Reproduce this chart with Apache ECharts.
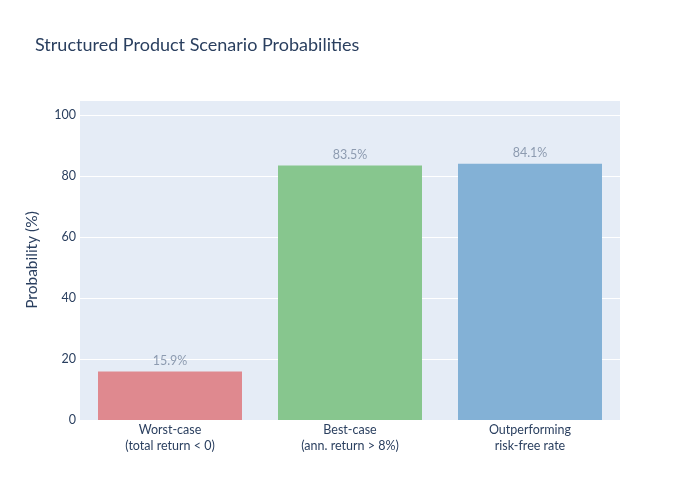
<!DOCTYPE html>
<html>
<head>
<meta charset="utf-8">
<script src="https://cdn.jsdelivr.net/npm/echarts@6/dist/echarts.min.js"></script>
<style>
  html, body { margin: 0; padding: 0; background: #fff; }
  #chart { width: 700px; height: 500px; }
</style>
</head>
<body>
<div id="chart"></div>
<script>
var categories = ['Worst-case\n(total return < 0)', 'Best-case\n(ann. return > 8%)', 'Outperforming\nrisk-free rate'];
var probabilities = [15.9, 83.5, 84.1];
var barColors = ['#df898f', '#87c68e', '#83b1d6'];
var yTicks = [0, 20, 40, 60, 80, 100];

var chart = echarts.init(document.getElementById('chart'));
var font = 'Lato, "Noto Sans", sans-serif';

var option = {
    backgroundColor: '#fff',
    textStyle: { fontFamily: font },
    title: {
        text: 'Structured Product Scenario Probabilities',
        left: 30,
        top: 31,
        textStyle: { fontFamily: font, fontSize: 18, fontWeight: 'normal', color: '#2a3f5f' }
    },
    grid: { left: 80, right: 80, top: 100, bottom: 80, backgroundColor: '#e5ecf6', show: true, borderWidth: 0 },
    xAxis: {
        type: 'category',
        data: categories,
        axisLine: { show: false },
        axisTick: { show: false },
        axisLabel: { color: '#2a3f5f', fontSize: 12.5, lineHeight: 16, margin: 2, fontFamily: font }
    },
    yAxis: {
        type: 'value',
        min: 0,
        max: 105,
        interval: 20,
        name: 'Probability (%)',
        nameLocation: 'middle',
        nameGap: 40,
        nameTextStyle: { color: '#2a3f5f', fontSize: 15.5, fontFamily: font },
        axisLine: { show: false },
        axisTick: { show: false },
        axisLabel: {
            color: '#2a3f5f', fontSize: 12.5, margin: 4, fontFamily: font,
            formatter: function (v) { return yTicks.indexOf(v) >= 0 ? String(v) : ''; }
        },
        splitLine: { lineStyle: { color: '#fff', width: 1 } }
    },
    series: [{
        type: 'bar',
        barCategoryGap: '20%',
        data: probabilities.map(function (v, i) {
            return { value: v, itemStyle: { color: barColors[i] } };
        }),
        label: {
            show: true,
            position: 'top',
            distance: 4,
            color: '#8d9bb0',
            fontSize: 12.5,
            fontFamily: font,
            formatter: function (p) { return p.value.toFixed(1) + '%'; }
        }
    }]
};
chart.setOption(option);
</script>
</body>
</html>
